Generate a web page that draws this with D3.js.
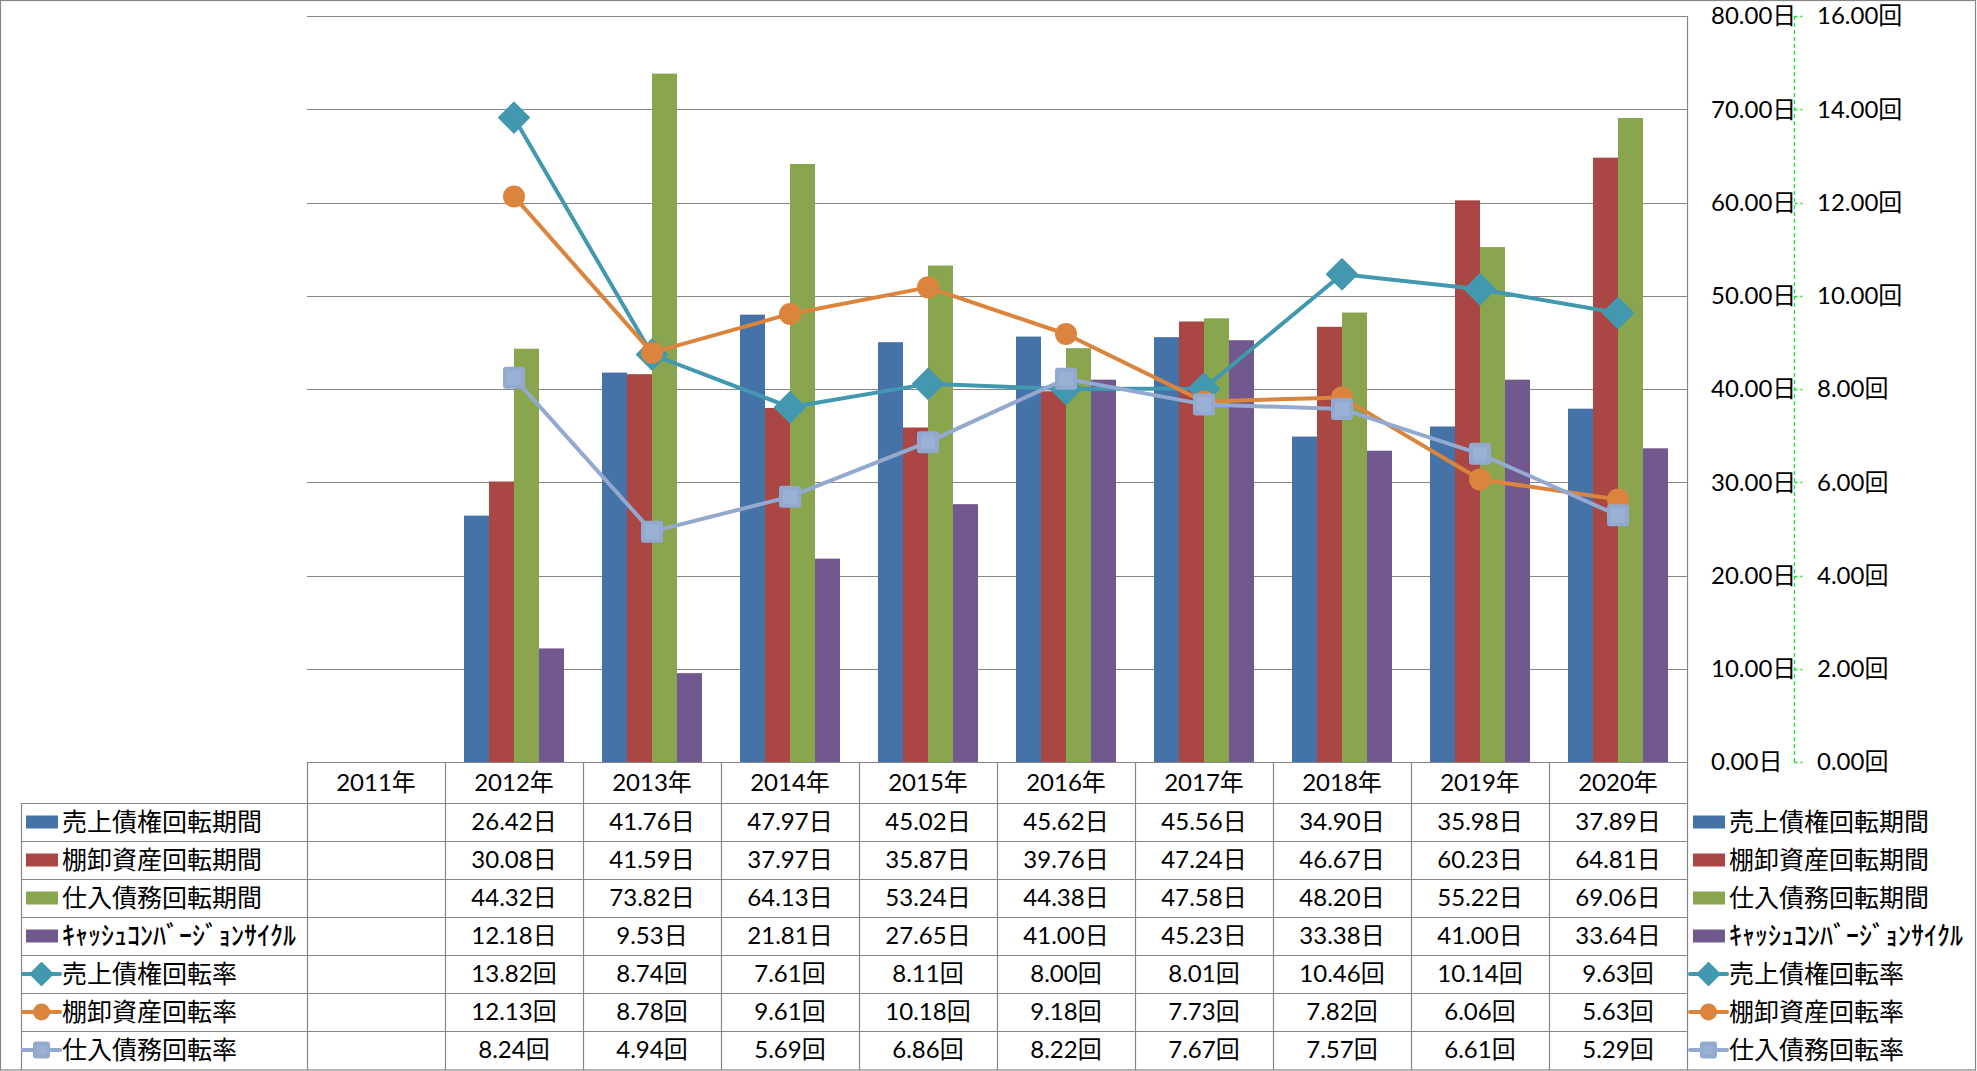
<!DOCTYPE html>
<html>
<head>
<meta charset="utf-8">
<script src="https://cdn.jsdelivr.net/npm/d3@7"></script>
<style>
  html, body { margin: 0; padding: 0; background: #fff; }
  svg { display: block; }
  text { font-family: Lato, "Noto Sans CJK JP", sans-serif; fill: #000; }
</style>
</head>
<body>
<svg id="chart" width="1977" height="1071"></svg>
<script>
// ---------- data ----------
const years = ["2011年","2012年","2013年","2014年","2015年","2016年","2017年","2018年","2019年","2020年"];
const arDays   = [null, 26.42, 41.76, 47.97, 45.02, 45.62, 45.56, 34.90, 35.98, 37.89];
const invDays  = [null, 30.08, 41.59, 37.97, 35.87, 39.76, 47.24, 46.67, 60.23, 64.81];
const apDays   = [null, 44.32, 73.82, 64.13, 53.24, 44.38, 47.58, 48.20, 55.22, 69.06];
const cccDays  = [null, 12.18,  9.53, 21.81, 27.65, 41.00, 45.23, 33.38, 41.00, 33.64];
const arTurn   = [null, 13.82,  8.74,  7.61,  8.11,  8.00,  8.01, 10.46, 10.14,  9.63];
const invTurn  = [null, 12.13,  8.78,  9.61, 10.18,  9.18,  7.73,  7.82,  6.06,  5.63];
const apTurn   = [null,  8.24,  4.94,  5.69,  6.86,  8.22,  7.67,  7.57,  6.61,  5.29];
const dayTicks  = [0, 10, 20, 30, 40, 50, 60, 70, 80];
const turnTicks = [0, 2, 4, 6, 8, 10, 12, 14, 16];
const barNames  = ["売上債権回転期間","棚卸資産回転期間","仕入債務回転期間","ｷｬｯｼｭｺﾝﾊﾞｰｼﾞｮﾝｻｲｸﾙ"];
const lineNames = ["売上債権回転率","棚卸資産回転率","仕入債務回転率"];

// ---------- setup ----------
const barSeries = [
  {name: barNames[0], values: arDays,  color: "#4572A7"},
  {name: barNames[1], values: invDays, color: "#AA4643"},
  {name: barNames[2], values: apDays,  color: "#89A54E"},
  {name: barNames[3], values: cccDays, color: "#71588F"}
];
const lineSeries = [
  {name: lineNames[0], values: arTurn,  color: "#4198AF", fill: "#4198AF", marker: "diamond"},
  {name: lineNames[1], values: invTurn, color: "#DB843D", fill: "#DB843D", marker: "circle"},
  {name: lineNames[2], values: apTurn,  color: "#93A9CF", fill: "#93A9CF", marker: "square"}
];

const svg = d3.select("#chart");
const W = 1977, H = 1071;
const plotL = 307, plotR = 1687, plotT = 16, plotB = 762;
const gridColor = "#868686";
const fs = 24;

const x = d3.scaleBand().domain(years).range([plotL, plotR]).padding(0);
const xs = d3.scaleBand().domain(d3.range(barSeries.length)).range([0, x.bandwidth()]).paddingInner(0).paddingOuter(0.76);
const yDays = d3.scaleLinear().domain([0, 80]).range([plotB, plotT]);
const yTurn = d3.scaleLinear().domain([0, 16]).range([plotB, plotT]);

// outer border
svg.append("rect").attr("x", 0.5).attr("y", 0.5).attr("width", W - 2).attr("height", H - 1.5)
  .attr("fill", "#fff").attr("stroke", gridColor).attr("stroke-width", 1.2);

// gridlines
svg.append("g").selectAll("line").data(dayTicks.filter(d => d > 0)).join("line")
  .attr("x1", plotL).attr("x2", plotR)
  .attr("y1", d => Math.round(yDays(d)) + 0.5).attr("y2", d => Math.round(yDays(d)) + 0.5)
  .attr("stroke", gridColor).attr("stroke-width", 1.2);

// bars
const gBars = svg.append("g");
barSeries.forEach((s, si) => {
  gBars.append("g").selectAll("rect")
    .data(years.map((y, i) => ({y, v: s.values[i]})).filter(d => d.v != null))
    .join("rect")
    .attr("x", d => x(d.y) + xs(si))
    .attr("width", xs.bandwidth())
    .attr("y", d => yDays(d.v))
    .attr("height", d => yDays(0) - yDays(d.v))
    .attr("fill", s.color);
});

// markers
function drawMarker(g, type, cx, cy, size, color) {
  if (type === "diamond") {
    const r = size / 2;
    g.append("path").attr("d", `M${cx},${cy - r}L${cx + r},${cy}L${cx},${cy + r}L${cx - r},${cy}Z`)
      .attr("fill", color).attr("stroke", color).attr("stroke-width", 2).attr("stroke-linejoin", "round");
  } else if (type === "circle") {
    g.append("circle").attr("cx", cx).attr("cy", cy).attr("r", size / 2).attr("fill", color);
  } else {
    const r = size / 2;
    g.append("rect").attr("x", cx - r).attr("y", cy - r).attr("width", size).attr("height", size)
      .attr("rx", 3).attr("fill", color);
    g.append("rect").attr("x", cx - r + 4).attr("y", cy - r + 4).attr("width", size - 8).attr("height", size - 8)
      .attr("fill", "#9AB0D4");
  }
}
const markerSize = {diamond: 30, circle: 22, square: 22};

const gLines = svg.append("g");
lineSeries.forEach(s => {
  const pts = years.map((y, i) => ({y, v: s.values[i]})).filter(d => d.v != null);
  const line = d3.line().x(d => x(d.y) + x.bandwidth() / 2).y(d => yTurn(d.v));
  const g = gLines.append("g");
  g.append("path").attr("d", line(pts)).attr("fill", "none").attr("stroke", s.color)
    .attr("stroke-width", 4).attr("stroke-linejoin", "round");
  pts.forEach(d => drawMarker(g, s.marker, x(d.y) + x.bandwidth() / 2, yTurn(d.v), markerSize[s.marker], s.fill));
});

// right vertical border of plot/table
svg.append("line").attr("x1", plotR + 0.5).attr("x2", plotR + 0.5).attr("y1", plotT).attr("y2", H - 1)
  .attr("stroke", gridColor).attr("stroke-width", 1.2);

// axis labels
const axisX = 1794.5;
svg.append("line").attr("x1", axisX).attr("x2", axisX).attr("y1", plotT).attr("y2", plotB)
  .attr("stroke", "#22dd22").attr("stroke-width", 1.3).attr("stroke-dasharray", "4,3");
svg.append("g").selectAll("line").data(turnTicks).join("line")
  .attr("x1", axisX).attr("x2", axisX + 8)
  .attr("y1", d => Math.round(yTurn(d)) + 0.5).attr("y2", d => Math.round(yTurn(d)) + 0.5)
  .attr("stroke", "#22dd22").attr("stroke-width", 1.3).attr("stroke-dasharray", "3,3");

const f2 = d3.format(".2f");
svg.append("g").selectAll("text").data(dayTicks).join("text")
  .attr("x", 1711).attr("y", d => yDays(d)).attr("dy", "0.35em")
  .attr("font-size", fs).text(d => f2(d) + "日");
svg.append("g").selectAll("text").data(turnTicks).join("text")
  .attr("x", 1817).attr("y", d => yTurn(d)).attr("dy", "0.35em")
  .attr("font-size", fs).text(d => f2(d) + "回");

// ---------- data table ----------
const headerTop = plotB, headerBot = 803, rowH = 38;
const labelL = 21;
const rows = [
  ...barSeries.map(s => ({name: s.name, values: s.values, unit: "日", kind: "bar", color: s.color})),
  ...lineSeries.map(s => ({name: s.name, values: s.values, unit: "回", kind: "line", color: s.color, marker: s.marker, fill: s.fill}))
];
const rowY = i => headerBot + i * rowH;
const tbl = svg.append("g");

// header
tbl.append("g").selectAll("text").data(years).join("text")
  .attr("x", d => x(d) + x.bandwidth() / 2).attr("y", (headerTop + headerBot) / 2).attr("dy", "0.35em")
  .attr("text-anchor", "middle").attr("font-size", fs).text(d => d);

// horizontal lines
tbl.append("line").attr("x1", plotL).attr("x2", plotR).attr("y1", headerTop + 0.5).attr("y2", headerTop + 0.5)
  .attr("stroke", gridColor).attr("stroke-width", 1.2);
tbl.append("g").selectAll("line").data(d3.range(rows.length)).join("line")
  .attr("x1", labelL).attr("x2", plotR)
  .attr("y1", i => rowY(i) + 0.5).attr("y2", i => rowY(i) + 0.5)
  .attr("stroke", gridColor).attr("stroke-width", 1.2);
// vertical lines
tbl.append("g").selectAll("line").data(years).join("line")
  .attr("x1", d => Math.round(x(d)) + 0.5).attr("x2", d => Math.round(x(d)) + 0.5)
  .attr("y1", headerTop).attr("y2", H - 1)
  .attr("stroke", gridColor).attr("stroke-width", 1.2);
tbl.append("line").attr("x1", labelL + 0.5).attr("x2", labelL + 0.5).attr("y1", headerBot).attr("y2", H - 1)
  .attr("stroke", gridColor).attr("stroke-width", 1.2);

// cells
rows.forEach((r, ri) => {
  const cy = rowY(ri) + rowH / 2;
  tbl.append("g").selectAll("text")
    .data(years.map((y, i) => ({y, v: r.values[i]})).filter(d => d.v != null))
    .join("text")
    .attr("x", d => x(d.y) + x.bandwidth() / 2).attr("y", cy).attr("dy", "0.35em")
    .attr("text-anchor", "middle").attr("font-size", fs)
    .text(d => f2(d.v) + r.unit);
});

// legend keys (left in table, right side)
function legendEntry(g, r, x0, cy) {
  if (r.kind === "bar") {
    g.append("rect").attr("x", x0 + 1).attr("y", cy - 6.5).attr("width", 32).attr("height", 13).attr("fill", r.color);
  } else {
    g.append("line").attr("x1", x0 - 2).attr("x2", x0 + 35).attr("y1", cy).attr("y2", cy)
      .attr("stroke", r.color).attr("stroke-width", 4).attr("stroke-linecap", "round");
    const sz = r.marker === "diamond" ? 22 : 17;
    drawMarker(g, r.marker, x0 + 16.5, cy, sz, r.fill);
  }
  const isKana = r.name.startsWith("ｷ");
  g.append("text").attr("x", x0 + 37).attr("y", cy).attr("dy", "0.35em")
    .attr("font-size", isKana ? 26 : 25)
    .attr("font-weight", isKana ? 500 : 400)
    .text(r.name);
}
rows.forEach((r, ri) => {
  const cy = rowY(ri) + rowH / 2;
  legendEntry(tbl.append("g"), r, 25, cy);
  legendEntry(svg.append("g"), r, 1692, cy);
});
</script>
</body>
</html>
